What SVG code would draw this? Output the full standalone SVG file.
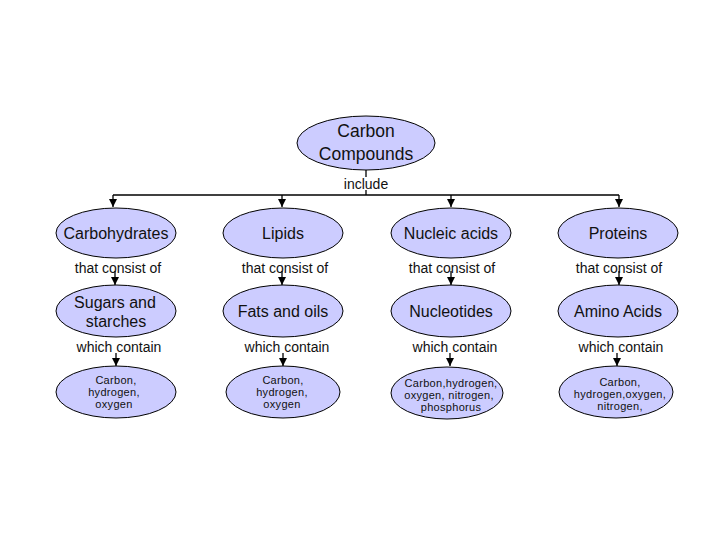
<svg xmlns="http://www.w3.org/2000/svg" width="720" height="540" viewBox="0 0 720 540">
<style>
.n{fill:#ccccff;stroke:#000;stroke-width:1}
.t{font-family:"Liberation Sans",Arial,sans-serif;fill:#111;text-anchor:middle}
.big{font-size:17.5px}
.mid{font-size:16px}
.lab{font-size:14px}
.sm{font-size:11px;letter-spacing:0.3px}
.c{stroke:#000;stroke-width:1.3;fill:none}
</style>
<defs>
<marker id="ah" viewBox="0 0 8 8" refX="8" refY="4" markerWidth="8" markerHeight="8" markerUnits="userSpaceOnUse" orient="auto">
<path d="M0,0 L8,4 L0,8 Z" fill="#000"/>
</marker>
</defs>
<rect width="720" height="540" fill="#fff"/>
<g id="connectors">
<path class="c" d="M366,170 V177"/>
<path class="c" d="M366,190 V195"/>
<path class="c" d="M113,195 H619"/>
<path class="c" d="M113,195 V207" marker-end="url(#ah)"/>
<path class="c" d="M282,195 V207" marker-end="url(#ah)"/>
<path class="c" d="M451,195 V207" marker-end="url(#ah)"/>
<path class="c" d="M619,195 V207" marker-end="url(#ah)"/>
<path class="c" d="M115,271 V285" marker-end="url(#ah)"/>
<path class="c" d="M282,271 V285" marker-end="url(#ah)"/>
<path class="c" d="M451,271 V285" marker-end="url(#ah)"/>
<path class="c" d="M619,271 V285" marker-end="url(#ah)"/>
<path class="c" d="M116,353 V366" marker-end="url(#ah)"/>
<path class="c" d="M283,353 V366" marker-end="url(#ah)"/>
<path class="c" d="M450,353 V366" marker-end="url(#ah)"/>
<path class="c" d="M617,353 V366" marker-end="url(#ah)"/>
<text class="t lab" x="366" y="189">include</text>
<text class="t lab" x="118" y="273">that consist of</text>
<text class="t lab" x="285" y="273">that consist of</text>
<text class="t lab" x="452" y="273">that consist of</text>
<text class="t lab" x="619" y="273">that consist of</text>
<text class="t lab" x="119" y="352">which contain</text>
<text class="t lab" x="287" y="352">which contain</text>
<text class="t lab" x="455" y="352">which contain</text>
<text class="t lab" x="621" y="352">which contain</text>
</g>
<g id="carbon-compounds">
<ellipse class="n" cx="366" cy="143" rx="69" ry="27"/>
<text class="t big" x="366" y="137">Carbon</text>
<text class="t big" x="366" y="160">Compounds</text>
</g>
<g id="carbohydrates">
<ellipse class="n" cx="116" cy="233" rx="60" ry="25"/>
<text class="t mid" x="116" y="239">Carbohydrates</text>
</g>
<g id="lipids">
<ellipse class="n" cx="283" cy="233" rx="60" ry="25"/>
<text class="t mid" x="283" y="239">Lipids</text>
</g>
<g id="nucleic-acids">
<ellipse class="n" cx="451" cy="233" rx="60" ry="25"/>
<text class="t mid" x="451" y="239">Nucleic acids</text>
</g>
<g id="proteins">
<ellipse class="n" cx="618" cy="233" rx="60" ry="25"/>
<text class="t mid" x="618" y="239">Proteins</text>
</g>
<g id="sugars">
<ellipse class="n" cx="116" cy="311" rx="60" ry="26"/>
<text class="t mid" x="115" y="308">Sugars and</text>
<text class="t mid" x="116" y="327">starches</text>
</g>
<g id="fats">
<ellipse class="n" cx="283" cy="311" rx="60" ry="26"/>
<text class="t mid" x="283" y="317">Fats and oils</text>
</g>
<g id="nucleotides">
<ellipse class="n" cx="451" cy="311" rx="60" ry="26"/>
<text class="t mid" x="451" y="317">Nucleotides</text>
</g>
<g id="amino-acids">
<ellipse class="n" cx="618" cy="311" rx="60" ry="26"/>
<text class="t mid" x="618" y="317">Amino Acids</text>
</g>
<g id="carb-elements">
<ellipse class="n" cx="116" cy="392" rx="60" ry="26"/>
<text class="t sm" x="116" y="384">Carbon,</text>
<text class="t sm" x="114" y="396">hydrogen,</text>
<text class="t sm" x="114" y="408">oxygen</text>
</g>
<g id="lipid-elements">
<ellipse class="n" cx="283" cy="392" rx="57" ry="26"/>
<text class="t sm" x="283" y="384">Carbon,</text>
<text class="t sm" x="282" y="396">hydrogen,</text>
<text class="t sm" x="282" y="408">oxygen</text>
</g>
<g id="nucleic-elements">
<ellipse class="n" cx="447" cy="393" rx="56" ry="26"/>
<text class="t sm" x="451" y="387">Carbon,hydrogen,</text>
<text class="t sm" x="449" y="399">oxygen, nitrogen,</text>
<text class="t sm" x="451" y="411">phosphorus</text>
</g>
<g id="protein-elements">
<ellipse class="n" cx="616" cy="392" rx="57" ry="26"/>
<text class="t sm" x="620" y="386">Carbon,</text>
<text class="t sm" x="620" y="398">hydrogen,oxygen,</text>
<text class="t sm" x="620" y="410">nitrogen,</text>
</g>
</svg>
